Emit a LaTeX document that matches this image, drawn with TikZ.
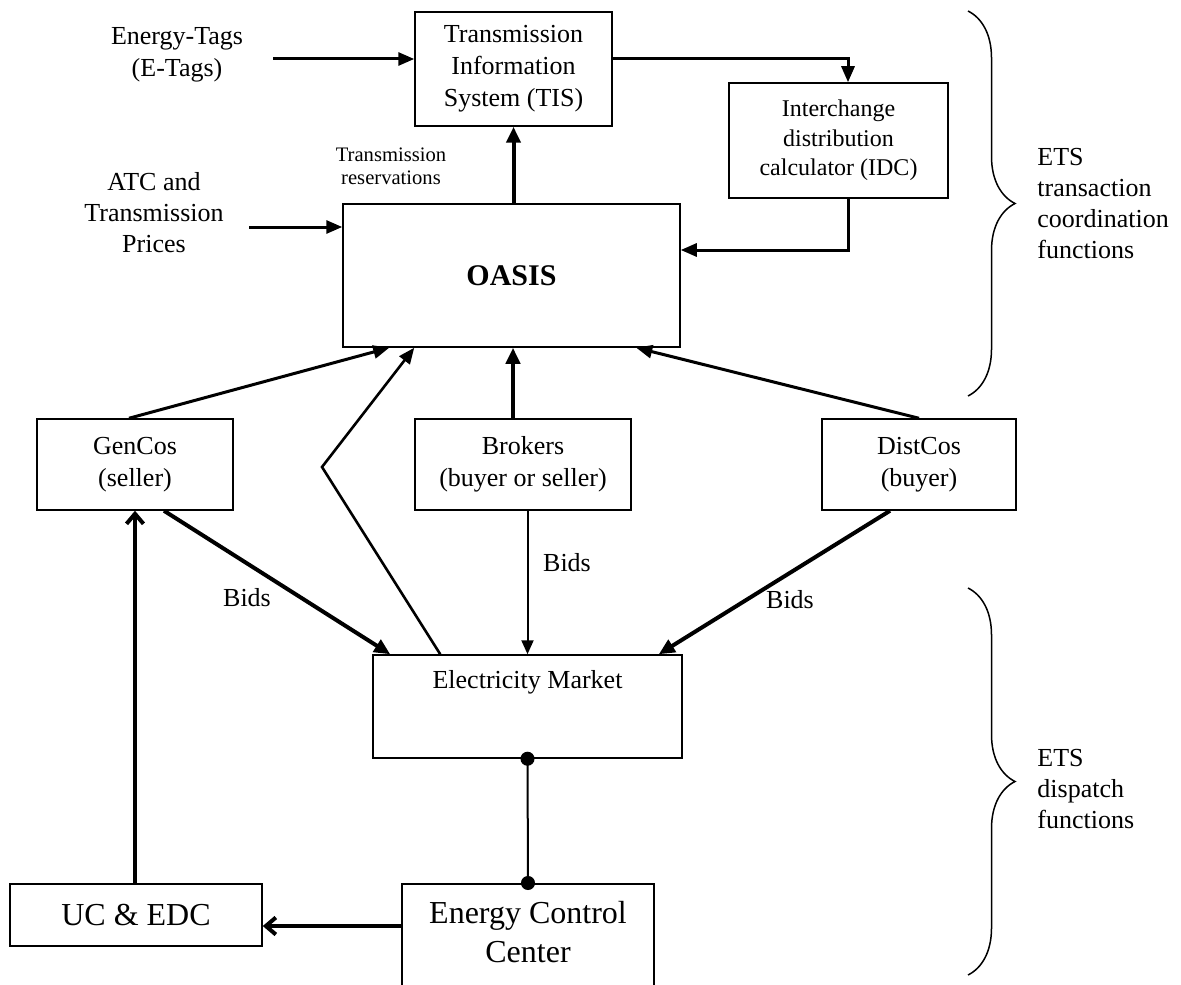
\documentclass[tikz,border=0pt]{standalone}
\usepackage{fontspec}
\setmainfont{Liberation Serif}
\usetikzlibrary{arrows.meta,calc,decorations.pathreplacing}
\begin{document}
\begin{tikzpicture}[x=0.5pt,y=-0.5pt,
  box/.style={draw,line width=0.75pt,inner sep=0pt,align=center,font=\fontsize{13}{16}\selectfont},
  lbl/.style={inner sep=0pt,align=center,font=\fontsize{13}{15.5}\selectfont},
  arr/.style={line width=1.5pt,-{Triangle[length=8pt,width=6.5pt]}},
  arrthick/.style={line width=2pt,-{Triangle[length=8pt,width=7pt]}},
  arrmid/.style={line width=1.3pt,-{Triangle[length=8pt,width=6.5pt]}},
  arrthin/.style={line width=1pt,-{Triangle[length=7pt,width=6pt]}},
  barb/.style={line width=2pt,-{Straight Barb[length=5pt,width=8.5pt]}},
  dotline/.style={line width=1pt,{Circle[length=7pt]}-{Circle[length=7pt]},shorten <=-3.5pt,shorten >=-3.5pt},
  bracestyle/.style={line width=0.75pt,decorate,decoration={brace,amplitude=23.5pt}}
]
\useasboundingbox (0,0) rectangle (1181,984);
\clip (0,0) rectangle (1181,984);

% boxes
\node[box,minimum width=98.5pt,minimum height=57pt] (TIS) at (513.5,69) {Transmission\\Information\\System (TIS)};
\node[box,font=\fontsize{12}{14.75}\selectfont,minimum width=109.5pt,minimum height=57.5pt] (IDC) at (838.5,140.5) {Interchange\\distribution\\calculator (IDC)};
\node[box,minimum width=168.5pt,minimum height=71.5pt,font=\fontsize{15}{18}\selectfont\bfseries] (OASIS) at (511.5,275.5) {OASIS};
\node[box,minimum width=98pt,minimum height=45.5pt] (GenCos) at (135,464.5) {GenCos\\(seller)};
\node[box,minimum width=108pt,minimum height=45.5pt] (Brokers) at (523,464.5) {Brokers\\(buyer or seller)};
\node[box,minimum width=97pt,minimum height=45.5pt] (DistCos) at (919,464.5) {DistCos\\(buyer)};
\node[box,minimum width=154.5pt,minimum height=51.5pt] (EM) at (527.5,706.5) {};
\node[lbl] (EMtext) at (527.5,682) {Electricity Market};
\node[box,minimum width=126pt,minimum height=70pt,anchor=north] (ECC) at (528,883) {};
\node[lbl,font=\fontsize{16}{19.5}\selectfont] (ECCtext) at (528,932.5) {Energy Control\\Center};
\node[box,minimum width=126pt,minimum height=31pt,font=\fontsize{16}{19.5}\selectfont] (UC) at (136,915) {UC \& EDC};

% free labels
\node[lbl,font=\fontsize{13}{16}\selectfont] (etags) at (177,55) {Energy-Tags\\(E-Tags)};
\node[lbl] (atc) at (154,212.5) {ATC and\\Transmission\\Prices};
\node[lbl,font=\fontsize{10.3}{11.5}\selectfont] (resv) at (391,166.5) {Transmission\\reservations};
\node[lbl] (bids1) at (247,598) {Bids};
\node[lbl] (bids2) at (567,563) {Bids};
\node[lbl] (bids3) at (790,600) {Bids};
\node[lbl,align=left,anchor=west] (ets1) at (1037,204) {ETS\\transaction\\coordination\\functions};
\node[lbl,align=left,anchor=west] (ets2) at (1037,789.5) {ETS\\dispatch\\functions};

% connectors in the transaction layer
\coordinate (etagsout) at (273,59);
\draw[arr] (etagsout) -- (etagsout -| TIS.west);
\coordinate (tisidc) at (848,59);
\draw[arr] (TIS.east |- tisidc) -- (tisidc) -- (tisidc |- IDC.north);
\draw[arrthick] (TIS.south |- OASIS.north) -- (TIS.south);
\coordinate (atcout) at (249,227);
\draw[arr] (atcout) -- (atcout -| OASIS.west);
\coordinate (idcturn) at (848,250);
\draw[arr] (idcturn |- IDC.south) -- (idcturn) -- (idcturn -| OASIS.east);

% market participants to OASIS
\draw[arr] ($(GenCos.north)+(-6,0)$) -- ($(OASIS.south west)+(47,0)$);
\coordinate (bend) at (322,467);
\draw[arrmid] ($(EM.north west)+(68,0)$) -- (bend) -- ($(OASIS.south west)+(72,0)$);
\coordinate (bk) at ($(Brokers.north)+(-10,0)$);
\draw[arrthick] (bk) -- (bk |- OASIS.south);
\draw[arr] (DistCos.north) -- ($(OASIS.south west)+(294,0)$);

% bids to the electricity market
\draw[arrthick] ($(GenCos.south)+(29,0)$) -- ($(EM.north west)+(18,0)$);
\draw[arrthin] (EM.north |- Brokers.south) -- (EM.north);
\draw[arrthick] ($(DistCos.south)+(-29,0)$) -- ($(EM.north east)+(-24,0)$);

% dispatch layer
\draw[dotline] (EM.south) -- (ECC.north);
\coordinate (eccout) at (0,926);
\draw[barb] (ECC.west |- eccout) -- (UC.east |- eccout);
\draw[barb] (GenCos.south |- UC.north) -- (GenCos.south);

% braces
\draw[bracestyle] (968,11) -- (968,396);
\draw[bracestyle] (968,588) -- (968,975);
\end{tikzpicture}
\end{document}
